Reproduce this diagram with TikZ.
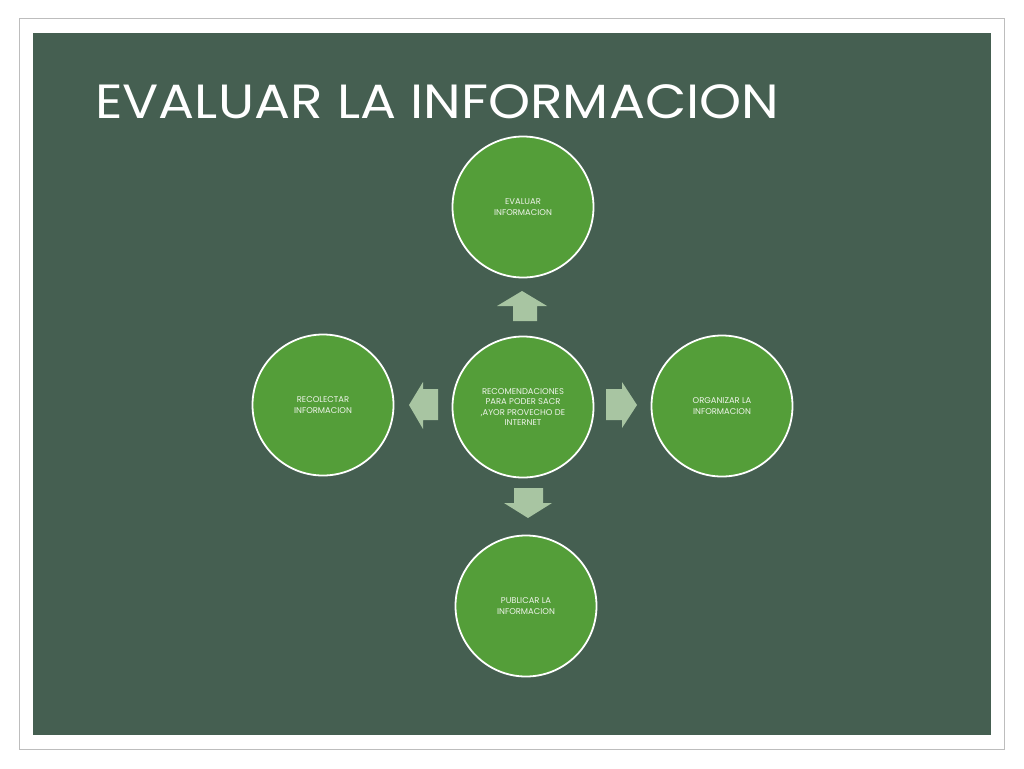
\documentclass[tikz,border=0pt]{standalone}
\usepackage{fontspec}
\setmainfont{Poppins}
\definecolor{bgdark}{HTML}{455F51}
\definecolor{bub}{HTML}{549E39}
\definecolor{arr}{HTML}{A8C5A2}
\definecolor{frame}{HTML}{BDBDBD}
\definecolor{txt}{HTML}{EEF3EA}
\begin{document}
\begin{tikzpicture}[x=1pt,y=-1pt,
  bubble/.style={circle,fill=bub,draw=white,line width=1.8pt,minimum size=141pt,inner sep=0pt,
    text=txt,align=center,font=\fontsize{8.4}{10.5}\selectfont},
  arrowfill/.style={fill=arr}]
\useasboundingbox (0,0) rectangle (1024,768);
\fill[white] (0,0) rectangle (1024,768);
\draw[frame,line width=1pt] (19.5,18.5) rectangle (1004.5,749.5);
\fill[bgdark] (33,33) rectangle (991,735);
\node[anchor=base west,text=white,font=\fontsize{48}{48}\selectfont,inner sep=0pt,xscale=1.115] (title) at (95,118) {EVALUAR LA INFORMACION};
\node[bubble] (center) at (523,407) {RECOMENDACIONES\\PARA PODER SACR\\,AYOR PROVECHO DE\\INTERNET};
\node[bubble] (top) at (523,207) {EVALUAR\\INFORMACION};
\node[bubble] (left) at (323,405) {RECOLECTAR\\INFORMACION};
\node[bubble] (right) at (722,406) {ORGANIZAR LA\\INFORMACION};
\node[bubble] (bottom) at (526,606) {PUBLICAR LA\\INFORMACION};
% arrows
\fill[arrowfill] (513,321) -- (513,306) -- (497,306) -- (522,291) -- (547,306) -- (537,306) -- (537,321) -- cycle;
\fill[arrowfill] (606,389) -- (622,389) -- (622,382) -- (637,405) -- (622,428) -- (622,420) -- (606,420) -- cycle;
\fill[arrowfill] (438,389) -- (423,389) -- (423,382) -- (409,405) -- (423,429) -- (423,420) -- (438,420) -- cycle;
\fill[arrowfill] (514,488) -- (543,488) -- (543,503) -- (552,503) -- (528,518) -- (504,503) -- (514,503) -- cycle;
\end{tikzpicture}
\end{document}
